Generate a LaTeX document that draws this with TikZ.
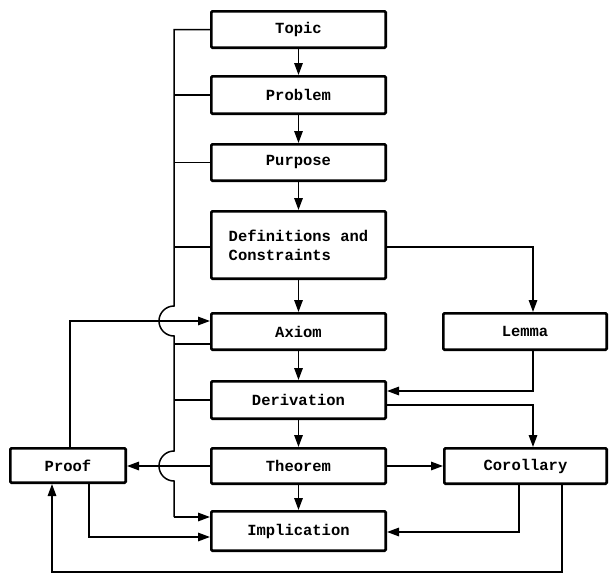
\documentclass[tikz,border=0pt]{standalone}
\usepackage{fontspec}
\setmonofont{Liberation Mono}
\usetikzlibrary{arrows.meta}
\begin{document}
\begin{tikzpicture}[x=1pt,y=-1pt,
  box/.style={draw, line width=2.6pt, rounded corners=1.2pt, inner sep=0pt,
    font=\ttfamily\bfseries\fontsize{15.5}{19}\selectfont},
  mainbox/.style={box, minimum width=174.4pt},
  conn/.style={line width=1.5pt},
  arr/.style={conn, -{Triangle[length=12pt,width=8.5pt]}},
]
\useasboundingbox (0,0) rectangle (611,573);

% main column
\node[mainbox, minimum height=36.4pt] (topic)   at (298.5,29.5)  {Topic};
\node[mainbox, minimum height=37.4pt] (problem) at (298.5,95)    {Problem};
\node[mainbox, minimum height=36.4pt] (purpose) at (298.5,162.5) {Purpose};
\node[mainbox, minimum height=67.4pt, align=left] (defs) at (298.5,245)
  {Definitions and\\Constraints};
\node[mainbox, minimum height=36.4pt] (axiom)   at (298.5,331.5) {Axiom};
\node[mainbox, minimum height=37.4pt] (deriv)   at (298.5,400)   {Derivation};
\node[mainbox, minimum height=35.4pt] (theorem) at (298.5,466)   {Theorem};
\node[mainbox, minimum height=39.4pt] (impl)    at (298.5,531)   {Implication};

% side boxes
\node[box, minimum width=163.4pt, minimum height=36.4pt] (lemma)  at (525,331.5) {Lemma};
\node[box, minimum width=162.4pt, minimum height=35.4pt] (coroll) at (525.5,466) {Corollary};
\node[box, minimum width=115.4pt, minimum height=34.4pt] (proof)  at (68,465.5)  {Proof};

% column arrows
\draw[arr] (topic) -- (problem);
\draw[arr] (problem) -- (purpose);
\draw[arr] (purpose) -- (defs);
\draw[arr] (defs) -- (axiom);
\draw[arr] (axiom) -- (deriv);
\draw[arr] (deriv) -- (theorem);
\draw[arr] (theorem) -- (impl);

% collecting line on the left, hopping over two crossings
\coordinate (bx) at (174,0);
\coordinate (hopA) at (174,306);
\coordinate (hopB) at (174,451);
\coordinate (busEnd) at (174,517);
\draw[conn] (topic.west) -| (hopA)
  arc[start angle=90, end angle=270, radius=15pt] -- (hopB)
  arc[start angle=90, end angle=270, radius=15pt] -- (busEnd);
\draw[arr] (busEnd) -- (busEnd -| impl.west);
\draw[conn] (problem.west) -- (problem.west -| bx);
\draw[conn] (purpose.west) -- (purpose.west -| bx);
\draw[conn] ([yshift=-2pt]defs.west) -- ([yshift=-2pt]defs.west -| bx);
\draw[conn] ([yshift=-12.5pt]axiom.west) -- ([yshift=-12.5pt]axiom.west -| bx);
\draw[conn] (deriv.west) -- (deriv.west -| bx);

% proof links
\draw[arr] ([xshift=2pt]proof.north) |- ([yshift=10.5pt]axiom.west);
\draw[arr] (theorem.west) -- (theorem.west -| proof.east);
\draw[arr] ([xshift=21pt]proof.south) |- ([yshift=-6pt]impl.west);

% right-hand links
\draw[arr] ([yshift=-2pt]defs.east) -| ([xshift=8pt]lemma.north);
\draw[arr] ([xshift=8pt]lemma.south) |- ([yshift=9pt]deriv.east);
\draw[arr] ([yshift=-5pt]deriv.east) -| ([xshift=7.5pt]coroll.north);
\draw[arr] (theorem.east) -- (theorem.east -| coroll.west);
\draw[arr] ([xshift=-6.5pt]coroll.south) |- ([yshift=-1pt]impl.east);

% feedback from corollary back to proof
\coordinate (fbR) at (562,572);
\coordinate (fbL) at (52,572);
\draw[arr] ([xshift=36.5pt]coroll.south) -- (fbR) -- (fbL) -- (fbL |- proof.south);
\end{tikzpicture}
\end{document}
